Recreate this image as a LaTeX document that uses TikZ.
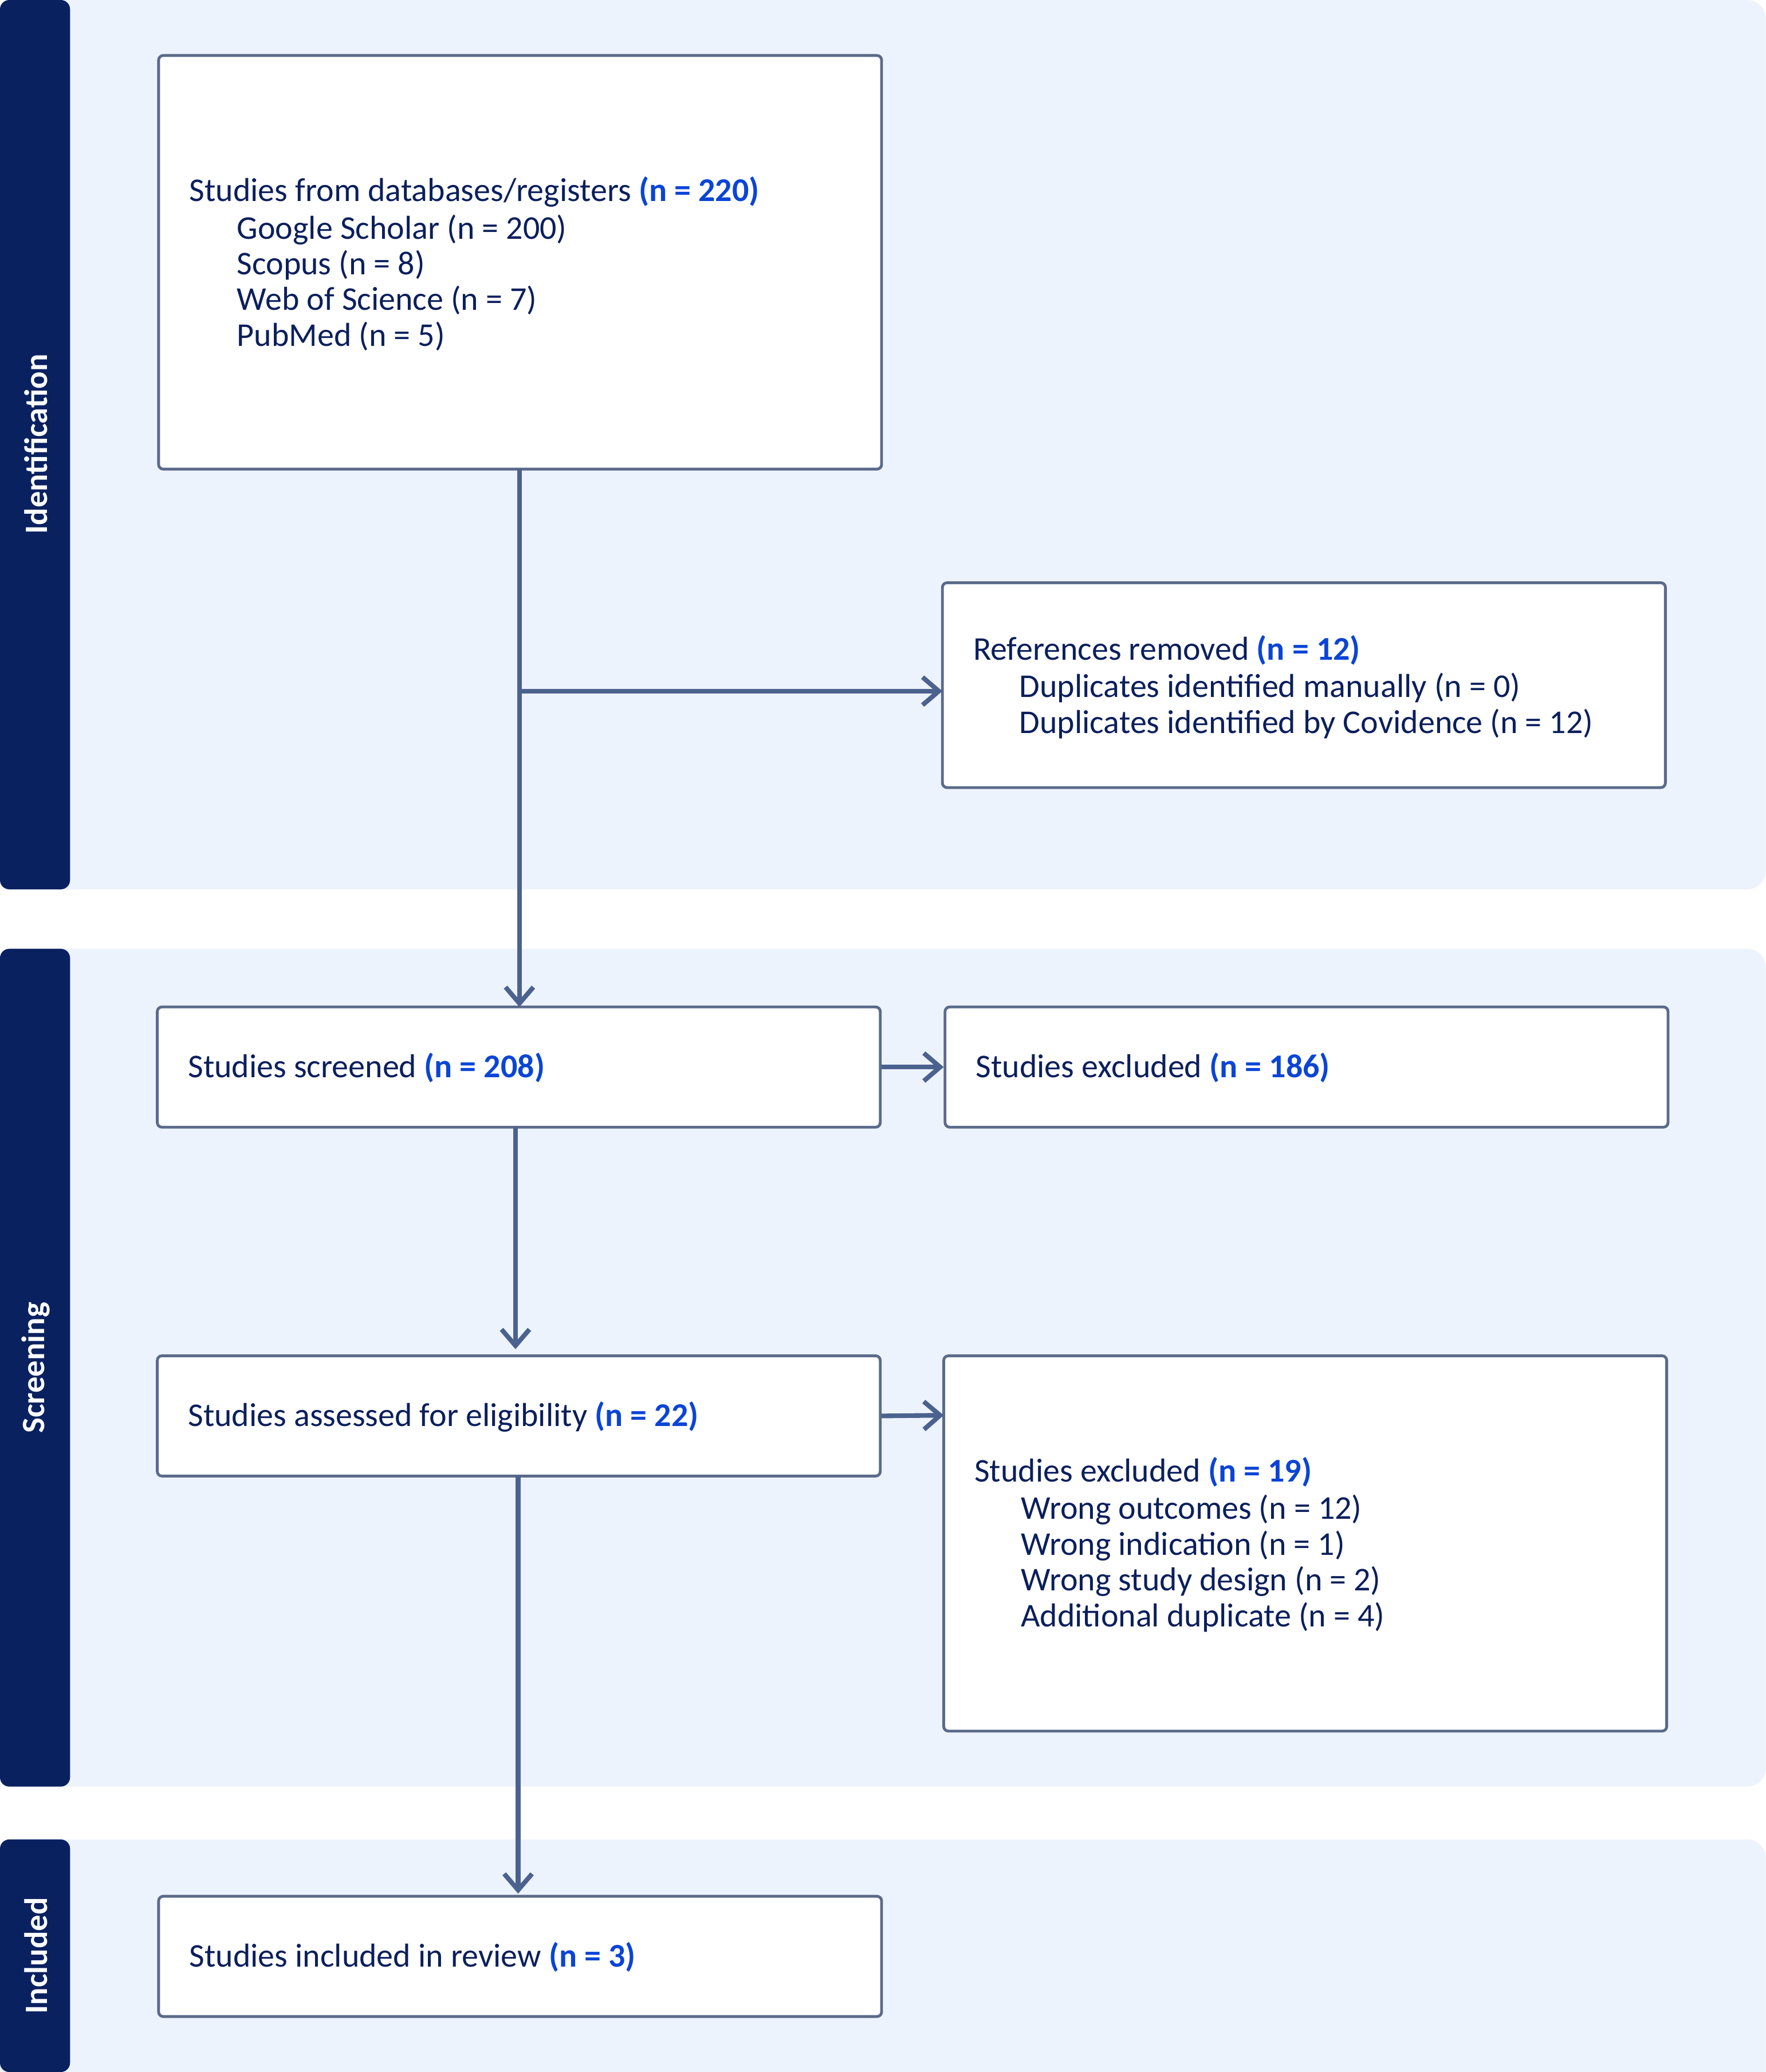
\documentclass[tikz,border=0pt]{standalone}
\usepackage{fontspec}
\setmainfont{Carlito}
\usetikzlibrary{arrows.meta}
\definecolor{band}{HTML}{EDF3FC}
\definecolor{strip}{HTML}{0A2160}
\definecolor{txt}{HTML}{0B1F5C}
\definecolor{hl}{HTML}{0B45D6}
\definecolor{arr}{HTML}{4B628F}
\definecolor{bord}{HTML}{5A6A8A}
\begin{document}
\begin{tikzpicture}[x=0.02cm,y=-0.02cm,
  box/.style={draw=bord,line width=1.2pt,fill=white,rounded corners=2pt},
  lab/.style={anchor=west,text=txt,font=\fontsize{14.3}{15.4}\selectfont,align=left,inner sep=0pt},
  sidelab/.style={rotate=90,text=white,font=\fontsize{14}{15}\selectfont\bfseries},
  con/.style={draw=arr,line width=2pt,-{Straight Barb[length=7pt,width=12pt,line width=2pt]}},
  plain/.style={draw=arr,line width=2pt}]
\newcommand{\hn}[1]{\textcolor{hl}{\textbf{#1}}}
\useasboundingbox (0,0) rectangle (1336,1568);
% bands
\fill[band,rounded corners=8pt] (0,0) rectangle (1336,673);
\fill[band,rounded corners=8pt] (0,718) rectangle (1336,1352);
\fill[band,rounded corners=8pt] (0,1392) rectangle (1336,1580);
\fill[strip,rounded corners=4pt] (0,0) rectangle (53,673);
\fill[strip,rounded corners=4pt] (0,718) rectangle (53,1352);
\fill[strip,rounded corners=4pt] (0,1392) rectangle (53,1568);
\node[sidelab] (s1) at (27,336) {Identification};
\node[sidelab] (s2) at (27,1035) {Screening};
\node[sidelab] (s3) at (27,1480) {Included};
% boxes
\draw[box] (120,42) rectangle (667,355);
\coordinate (Atop) at (393,355);
\node[lab] (A) at (143,145) {Studies from databases/registers \hn{(n = 220)}};
\node[lab,anchor=north west] (A2) at (179,162) {Google Scholar (n = 200)\\Scopus (n = 8)\\Web of Science (n = 7)\\PubMed (n = 5)};
\draw[box] (713,441) rectangle (1260,596);
\coordinate (R) at (713,523);
\node[lab] (Rt) at (736,492) {References removed \hn{(n = 12)}};
\node[lab,anchor=north west] (R2) at (771,509) {Duplicates identified manually (n = 0)\\Duplicates identified by Covidence (n = 12)};
\node[box,minimum width=547*0.02cm,minimum height=91*0.02cm,inner sep=0pt] (S) at (392.5,807.5) {};
\node[lab] at (142,808) {Studies screened \hn{(n = 208)}};
\node[box,minimum width=547*0.02cm,minimum height=91*0.02cm,inner sep=0pt] (E1) at (988.5,807.5) {};
\node[lab] at (738,808) {Studies excluded \hn{(n = 186)}};
\node[box,minimum width=547*0.02cm,minimum height=91*0.02cm,inner sep=0pt] (Q) at (392.5,1071.5) {};
\node[lab] at (142,1072) {Studies assessed for eligibility \hn{(n = 22)}};
\draw[box] (714,1026) rectangle (1261,1310);
\coordinate (E2) at (714,1071);
\node[lab] at (737,1114) {Studies excluded \hn{(n = 19)}};
\node[lab,anchor=north west] at (772,1131) {Wrong outcomes (n = 12)\\Wrong indication (n = 1)\\Wrong study design (n = 2)\\Additional duplicate (n = 4)};
\node[box,minimum width=547*0.02cm,minimum height=91*0.02cm,inner sep=0pt] (I) at (393.5,1480.5) {};
\node[lab] at (143,1481) {Studies included in review \hn{(n = 3)}};
% connectors
\coordinate (B) at (393,523);
\draw[plain] (Atop) -- (B);
\draw[con] (B) -- (R);
\draw[con] (B) -- (393,762);
\draw[con] (390,853) -- (390,1021);
\draw[con] (S.east) -- (E1.west);
\draw[con] (Q.east) -- (E2);
\draw[con] (392,1117) -- (392,1433);
\end{tikzpicture}
\end{document}
